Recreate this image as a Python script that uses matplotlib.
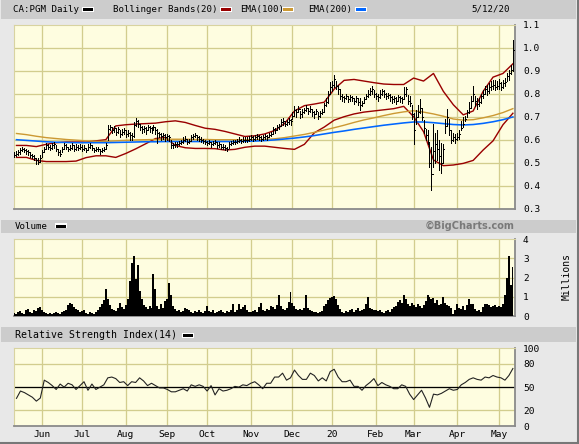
import numpy as np
import pandas as pd
import matplotlib
matplotlib.use("Agg")
import matplotlib.pyplot as plt
from matplotlib.patches import Rectangle

# ---------------- data ----------------
START, END = "2019-05-13", "2020-05-12"
HOLIDAYS = ["2019-05-20", "2019-07-01", "2019-08-05", "2019-09-02", "2019-10-14",
            "2019-12-25", "2019-12-26", "2020-01-01", "2020-02-17", "2020-04-10"]
MONTH_LABELS = ["Jun", "Jul", "Aug", "Sep", "Oct", "Nov", "Dec", "20", "Feb", "Mar", "Apr", "May"]
PRICE_TICKS = [0.3, 0.4, 0.5, 0.6, 0.7, 0.8, 0.9, 1.0, 1.1]
VOL_TICKS = [0, 1, 2, 3, 4]
RSI_TICKS = [0, 20, 50, 80, 100]

CLOSE = [
    # May
    0.535, 0.54, 0.545, 0.555, 0.56, 0.555, 0.55, 0.545, 0.535, 0.53, 0.52, 0.51, 0.505, 0.52,
    # Jun
    0.545, 0.56, 0.575, 0.57, 0.565, 0.575, 0.58, 0.56, 0.545, 0.54, 0.56, 0.575, 0.57, 0.56, 0.565, 0.575, 0.56, 0.57, 0.565, 0.57,
    # Jul
    0.56, 0.565, 0.555, 0.57, 0.575, 0.565, 0.555, 0.56, 0.56, 0.55, 0.555, 0.56, 0.575, 0.645, 0.655, 0.64, 0.65, 0.635, 0.645, 0.625, 0.635, 0.64,
    # Aug
    0.625, 0.63, 0.62, 0.615, 0.665, 0.68, 0.67, 0.655, 0.645, 0.65, 0.64, 0.655, 0.65, 0.645, 0.655, 0.64, 0.63, 0.625, 0.615, 0.62, 0.61,
    # Sep
    0.615, 0.61, 0.575, 0.575, 0.58, 0.58, 0.585, 0.59, 0.60, 0.605, 0.59, 0.595, 0.61, 0.615, 0.62, 0.61, 0.605, 0.60, 0.595, 0.59,
    # Oct
    0.585, 0.59, 0.58, 0.585, 0.59, 0.575, 0.58, 0.57, 0.57, 0.565, 0.56, 0.58, 0.585, 0.59, 0.59, 0.595, 0.60, 0.595, 0.60, 0.60, 0.60, 0.605,
    # Nov
    0.61, 0.605, 0.61, 0.615, 0.61, 0.605, 0.61, 0.615, 0.61, 0.62, 0.625, 0.645, 0.64, 0.655, 0.66, 0.675, 0.68, 0.67, 0.675, 0.685, 0.68,
    # Dec
    0.705, 0.73, 0.72, 0.735, 0.71, 0.72, 0.73, 0.74, 0.725, 0.735, 0.72, 0.71, 0.725, 0.705, 0.715, 0.72, 0.75, 0.765, 0.80, 0.83,
    # Jan
    0.84, 0.865, 0.835, 0.82, 0.79, 0.785, 0.78, 0.79, 0.775, 0.785, 0.78, 0.77, 0.78, 0.765, 0.75, 0.76, 0.775, 0.79, 0.80, 0.81, 0.82, 0.80,
    # Feb
    0.79, 0.785, 0.80, 0.81, 0.80, 0.79, 0.795, 0.785, 0.775, 0.78, 0.77, 0.785, 0.78, 0.775, 0.80, 0.82, 0.77, 0.76, 0.71,
    # Mar
    0.64, 0.70, 0.72, 0.74, 0.70, 0.65, 0.62, 0.59, 0.50, 0.45, 0.55, 0.58, 0.56, 0.53, 0.50, 0.56, 0.66, 0.70, 0.64, 0.60, 0.61, 0.605,
    # Apr
    0.61, 0.625, 0.65, 0.67, 0.69, 0.72, 0.74, 0.77, 0.80, 0.77, 0.755, 0.765, 0.79, 0.80, 0.82, 0.81, 0.83, 0.835, 0.84, 0.83, 0.835,
    # May
    0.845, 0.83, 0.845, 0.85, 0.875, 0.89, 0.905, 0.99,
]
HIGH = [
    0.545, 0.55, 0.555, 0.565, 0.57, 0.565, 0.56, 0.555, 0.545, 0.54, 0.535, 0.52, 0.52, 0.535,
    0.555, 0.57, 0.585, 0.58, 0.575, 0.585, 0.59, 0.575, 0.56, 0.555, 0.57, 0.585, 0.58, 0.57, 0.575, 0.585, 0.575, 0.58, 0.575, 0.58,
    0.575, 0.575, 0.565, 0.58, 0.585, 0.575, 0.565, 0.57, 0.57, 0.56, 0.565, 0.57, 0.585, 0.665, 0.665, 0.655, 0.66, 0.65, 0.655, 0.64, 0.645, 0.65,
    0.64, 0.64, 0.635, 0.63, 0.675, 0.695, 0.685, 0.67, 0.66, 0.66, 0.655, 0.665, 0.66, 0.655, 0.665, 0.655, 0.645, 0.635, 0.63, 0.63, 0.625,
    0.625, 0.62, 0.60, 0.585, 0.59, 0.59, 0.595, 0.60, 0.61, 0.615, 0.605, 0.605, 0.62, 0.625, 0.63, 0.62, 0.615, 0.61, 0.605, 0.60,
    0.595, 0.60, 0.59, 0.595, 0.60, 0.59, 0.59, 0.58, 0.58, 0.575, 0.57, 0.59, 0.595, 0.60, 0.60, 0.605, 0.61, 0.605, 0.61, 0.61, 0.61, 0.615,
    0.62, 0.615, 0.62, 0.625, 0.62, 0.615, 0.62, 0.625, 0.62, 0.63, 0.635, 0.655, 0.65, 0.665, 0.67, 0.69, 0.695, 0.68, 0.685, 0.695, 0.69,
    0.72, 0.745, 0.735, 0.745, 0.725, 0.735, 0.74, 0.75, 0.74, 0.745, 0.735, 0.725, 0.735, 0.72, 0.725, 0.735, 0.76, 0.78, 0.81, 0.85,
    0.855, 0.88, 0.855, 0.84, 0.82, 0.80, 0.79, 0.80, 0.79, 0.795, 0.79, 0.78, 0.79, 0.78, 0.78, 0.77, 0.785, 0.80, 0.815, 0.825, 0.835, 0.815,
    0.805, 0.80, 0.815, 0.82, 0.815, 0.805, 0.805, 0.80, 0.79, 0.79, 0.785, 0.795, 0.79, 0.785, 0.83, 0.83, 0.795, 0.79, 0.75,
    0.715, 0.73, 0.75, 0.775, 0.74, 0.685, 0.645, 0.64, 0.585, 0.57, 0.67, 0.63, 0.64, 0.60, 0.585, 0.58, 0.69, 0.735, 0.69, 0.64, 0.63, 0.625,
    0.63, 0.64, 0.68, 0.70, 0.705, 0.73, 0.765, 0.79, 0.835, 0.79, 0.78, 0.78, 0.80, 0.815, 0.835, 0.84, 0.845, 0.855, 0.86, 0.86, 0.855,
    0.865, 0.85, 0.86, 0.87, 0.89, 0.905, 0.925, 1.035,
]
LOW = [
    0.525, 0.53, 0.535, 0.54, 0.55, 0.545, 0.54, 0.535, 0.525, 0.52, 0.51, 0.495, 0.495, 0.505,
    0.525, 0.545, 0.56, 0.56, 0.555, 0.56, 0.565, 0.55, 0.535, 0.53, 0.545, 0.56, 0.56, 0.55, 0.555, 0.56, 0.55, 0.555, 0.555, 0.56,
    0.55, 0.555, 0.545, 0.555, 0.565, 0.555, 0.545, 0.55, 0.55, 0.54, 0.545, 0.55, 0.56, 0.60, 0.64, 0.63, 0.635, 0.62, 0.63, 0.61, 0.62, 0.625,
    0.61, 0.615, 0.60, 0.60, 0.61, 0.66, 0.655, 0.64, 0.63, 0.635, 0.625, 0.64, 0.635, 0.63, 0.64, 0.625, 0.585, 0.61, 0.60, 0.605, 0.595,
    0.60, 0.595, 0.565, 0.565, 0.57, 0.57, 0.575, 0.58, 0.585, 0.595, 0.58, 0.585, 0.595, 0.605, 0.61, 0.60, 0.595, 0.59, 0.585, 0.58,
    0.575, 0.58, 0.57, 0.575, 0.58, 0.565, 0.57, 0.56, 0.56, 0.555, 0.55, 0.565, 0.575, 0.58, 0.58, 0.585, 0.59, 0.585, 0.59, 0.59, 0.59, 0.595,
    0.60, 0.595, 0.60, 0.605, 0.60, 0.595, 0.60, 0.605, 0.60, 0.61, 0.615, 0.625, 0.63, 0.64, 0.645, 0.66, 0.665, 0.66, 0.665, 0.67, 0.665,
    0.69, 0.705, 0.70, 0.72, 0.695, 0.70, 0.715, 0.725, 0.71, 0.72, 0.705, 0.695, 0.71, 0.69, 0.70, 0.71, 0.72, 0.745, 0.76, 0.80,
    0.81, 0.83, 0.82, 0.80, 0.775, 0.77, 0.765, 0.775, 0.765, 0.77, 0.77, 0.755, 0.765, 0.75, 0.73, 0.745, 0.76, 0.775, 0.785, 0.795, 0.80, 0.785,
    0.775, 0.77, 0.78, 0.795, 0.785, 0.775, 0.78, 0.77, 0.76, 0.765, 0.755, 0.77, 0.765, 0.76, 0.775, 0.79, 0.755, 0.745, 0.69,
    0.58, 0.67, 0.70, 0.715, 0.685, 0.63, 0.60, 0.58, 0.48, 0.38, 0.48, 0.50, 0.51, 0.47, 0.455, 0.50, 0.63, 0.66, 0.62, 0.585, 0.595, 0.585,
    0.60, 0.605, 0.64, 0.655, 0.68, 0.70, 0.715, 0.74, 0.77, 0.745, 0.735, 0.745, 0.76, 0.78, 0.80, 0.795, 0.805, 0.815, 0.82, 0.815, 0.82,
    0.82, 0.815, 0.825, 0.835, 0.855, 0.86, 0.885, 0.90,
]
VOLUME = [  # millions of shares
    0.15, 0.10, 0.20, 0.25, 0.15, 0.10, 0.30, 0.35, 0.20, 0.15, 0.30, 0.25, 0.40, 0.45,
    0.30, 0.20, 0.15, 0.10, 0.15, 0.10, 0.15, 0.20, 0.15, 0.10, 0.20, 0.25, 0.30, 0.55, 0.70, 0.60, 0.45, 0.35, 0.30, 0.20,
    0.25, 0.30, 0.15, 0.10, 0.20, 0.15, 0.10, 0.20, 0.30, 0.45, 0.60, 0.85, 1.40, 0.90, 0.55, 0.35, 0.30, 0.25, 0.40, 0.70, 0.45, 0.35,
    0.55, 0.9, 1.8, 2.75, 3.1, 1.9, 2.65, 1.3, 0.9, 0.55, 0.45, 0.35, 0.5, 0.4, 2.2, 1.4, 0.5, 0.35, 0.6, 0.4, 0.8,
    0.9, 1.7, 1.1, 0.5, 0.35, 0.25, 0.3, 0.2, 0.25, 0.4, 0.35, 0.3, 0.2, 0.15, 0.25, 0.2, 0.3, 0.2, 0.15, 0.25,
    0.5, 0.25, 0.2, 0.3, 0.15, 0.2, 0.25, 0.3, 0.2, 0.15, 0.25, 0.2, 0.3, 0.6, 0.2, 0.3, 0.6, 0.35, 0.45, 0.55, 0.3, 0.2,
    0.2, 0.25, 0.3, 0.2, 0.45, 0.7, 0.3, 0.25, 0.35, 0.3, 0.5, 0.45, 0.35, 0.55, 1.1, 0.5, 0.35, 0.3, 0.4, 0.75, 1.25,
    0.7, 0.5, 0.35, 0.3, 0.35, 0.3, 0.4, 1.1, 0.4, 0.3, 0.25, 0.2, 0.2, 0.15, 0.2, 0.25, 0.5, 0.6, 0.85, 0.95,
    1.0, 1.05, 0.9, 0.55, 0.35, 0.2, 0.15, 0.25, 0.2, 0.3, 0.35, 0.2, 0.3, 0.4, 0.25, 0.3, 0.35, 0.6, 1.0, 0.4, 0.35, 0.3,
    0.3, 0.25, 0.3, 0.2, 0.15, 0.25, 0.3, 0.2, 0.35, 0.45, 0.5, 0.75, 0.85, 0.7, 1.1, 0.9, 0.6, 0.5, 0.7,
    0.55, 0.45, 0.6, 0.5, 0.4, 0.55, 0.8, 1.1, 1.0, 0.9, 0.95, 0.7, 0.85, 0.55, 0.6, 1.0, 0.7, 0.55, 0.5, 0.4, 0.1, 0.3,
    0.6, 0.4, 0.35, 0.5, 0.3, 0.55, 0.9, 0.6, 0.65, 0.35, 0.25, 0.3, 0.2, 0.45, 0.65, 0.6, 0.55, 0.45, 0.5, 0.55, 0.45,
    0.5, 0.45, 0.6, 1.1, 2.0, 3.1, 1.6, 2.55,
]
# indicator lines read every 5th session (starting with the 2nd session)
BB_UPPER = [0.575, 0.575, 0.57, 0.58, 0.587, 0.59, 0.59, 0.59, 0.595, 0.60,
            0.66, 0.665, 0.668, 0.67, 0.672, 0.678, 0.682, 0.675, 0.662, 0.65,
            0.645, 0.636, 0.625, 0.614, 0.617, 0.625, 0.64, 0.67, 0.725, 0.748,
            0.755, 0.763, 0.82, 0.858, 0.862, 0.855, 0.848, 0.842, 0.84, 0.84,
            0.868, 0.855, 0.888, 0.81, 0.752, 0.708, 0.725, 0.81, 0.872, 0.888, 0.93]
BB_LOWER = [0.523, 0.523, 0.51, 0.505, 0.505, 0.505, 0.507, 0.522, 0.53, 0.53,
            0.523, 0.54, 0.56, 0.582, 0.605, 0.61, 0.575, 0.565, 0.562, 0.562,
            0.561, 0.555, 0.558, 0.567, 0.572, 0.572, 0.567, 0.562, 0.558, 0.58,
            0.63, 0.655, 0.685, 0.70, 0.712, 0.72, 0.725, 0.73, 0.735, 0.745,
            0.70, 0.635, 0.512, 0.487, 0.49, 0.497, 0.51, 0.555, 0.595, 0.665, 0.715]
EMA100 = [0.627, 0.622, 0.615, 0.609, 0.605, 0.601, 0.598, 0.595, 0.593, 0.593,
          0.595, 0.597, 0.599, 0.600, 0.601, 0.602, 0.602, 0.602, 0.601, 0.601,
          0.600, 0.600, 0.600, 0.600, 0.600, 0.601, 0.604, 0.609, 0.616, 0.623,
          0.632, 0.642, 0.652, 0.663, 0.675, 0.686, 0.695, 0.705, 0.714, 0.721,
          0.726, 0.72, 0.712, 0.702, 0.69, 0.685, 0.687, 0.695, 0.705, 0.718, 0.735]
EMA200 = [0.600, 0.597, 0.594, 0.591, 0.589, 0.588, 0.587, 0.587, 0.587, 0.587,
          0.588, 0.589, 0.590, 0.591, 0.591, 0.592, 0.592, 0.592, 0.592, 0.592,
          0.592, 0.592, 0.592, 0.593, 0.594, 0.596, 0.599, 0.603, 0.607, 0.612,
          0.618, 0.625, 0.632, 0.638, 0.645, 0.651, 0.657, 0.663, 0.668, 0.673,
          0.677, 0.677, 0.674, 0.670, 0.666, 0.664, 0.666, 0.671, 0.678, 0.687, 0.699]
# RSI(14) read every 2nd session (starting with the 2nd session)
RSI14 = [35.6, 45, 43, 40, 37, 32, 36, 59, 56, 52, 47, 54, 50, 55, 53, 47, 52, 57, 46, 54,
         47, 50, 53, 62, 63, 61, 56, 57, 52, 57, 56, 62, 58, 52, 55, 52, 49, 49, 47, 44,
         44, 46, 48, 45, 53, 51, 53, 51, 45, 52, 40, 48, 45, 46, 48, 51, 50, 53, 52, 55,
         57, 53, 48, 55, 55, 63, 63, 68, 59, 62,
         72, 65, 60, 60, 68, 65, 58, 62, 58, 70, 73, 63, 57, 57, 59, 51, 51, 46, 52, 56,
         61, 52, 56, 53, 51, 48, 48, 53, 51, 41, 34, 40, 46, 36, 24, 41, 40, 42, 45, 48,
         46, 47, 53, 56, 60, 62, 60, 59, 63, 62, 65, 63, 62, 59, 65, 74]

# ---------------- derived positions ----------------
dates = pd.bdate_range(START, END)
dates = dates[~dates.isin(pd.to_datetime(HOLIDAYS))]
n = len(dates)
assert len(CLOSE) == n and len(HIGH) == n and len(LOW) == n and len(VOLUME) == n
x = np.arange(n)
x5 = x[1::5]
x2 = x[1::2]
assert len(x5) == len(BB_UPPER) == len(BB_LOWER) == len(EMA100) == len(EMA200)
assert len(x2) == len(RSI14)
months = dates.month
month_pos = [i for i in range(1, n) if months[i] != months[i - 1]]

# ---------------- style ----------------
W, H = 579, 444
FIG_BG = "#e8e8e8"
BAND = "#cccccc"
PLOT_BG = "#fefde0"
GRID = "#d2cd8e"
RED, ORANGE, BLUE = "#990000", "#cc9933", "#0066ff"
MONO = "DejaVu Sans Mono"
plt.rcParams["font.family"] = MONO

fig = plt.figure(figsize=(W / 100, H / 100), dpi=100)
fig.patch.set_facecolor(FIG_BG)

XL, XR = 14, 515
XMIN, XMAX = -0.25, 252.06
PX = 0.72  # one pixel in points


def add_ax(top, bottom):
    return fig.add_axes([XL / W, 1 - bottom / H, (XR - XL) / W, (bottom - top) / H])


def band(y0, y1):
    fig.add_artist(Rectangle((1 / W, 1 - y1 / H), 575 / W, (y1 - y0) / H,
                             transform=fig.transFigure, facecolor=BAND, edgecolor="none", zorder=0))


def swatch(x0, yc, color):
    fig.add_artist(Rectangle((x0 / W, 1 - (yc + 2.5) / H), 12 / W, 5 / H, transform=fig.transFigure,
                             facecolor="white", edgecolor="none"))
    fig.add_artist(Rectangle(((x0 + 1) / W, 1 - (yc + 1.5) / H), 10 / W, 3 / H, transform=fig.transFigure,
                             facecolor=color, edgecolor="none"))


def ftext(px, py, s, **kw):
    kw.setdefault("fontsize", 6.6)
    kw.setdefault("va", "center")
    fig.text(px / W, 1 - py / H, s, **kw)


def style(ax, ymin, ymax, ticks, labels, grid_y):
    ax.set_facecolor(PLOT_BG)
    ax.set_xlim(XMIN, XMAX)
    ax.set_ylim(ymin, ymax)
    for p in month_pos:
        ax.axvline(p, color=GRID, lw=1.3 * PX, zorder=0.5)
    for g in grid_y:
        ax.axhline(g, color=GRID, lw=1.3 * PX, zorder=0.5)
    ax.yaxis.tick_right()
    ax.set_yticks(ticks)
    ax.set_yticklabels(labels)
    ax.tick_params(axis="y", length=0, pad=5.8, labelsize=6.8)
    ax.set_xticks([])
    for s in ("top", "left"):
        ax.spines[s].set_color("#d8d3a0")
        ax.spines[s].set_linewidth(0.8)
    for s in ("bottom", "right"):
        ax.spines[s].set_color("#8a8a8a")
        ax.spines[s].set_linewidth(1.3)


# header bands
band(0, 19)
band(220, 233)
band(327, 342)

ftext(13, 9.5, "CA:PGM Daily")
swatch(82, 9.5, "black")
ftext(113, 9.5, "Bollinger Bands(20)")
swatch(220, 9.5, RED)
ftext(240.5, 9.5, "EMA(100)")
swatch(282, 9.5, ORANGE)
ftext(308, 9.5, "EMA(200)")
swatch(355, 9.5, BLUE)
ftext(510, 9.5, "5/12/20", ha="right")

ftext(15, 226.5, "Volume")
swatch(55, 226, "black")
ftext(515, 226, "\u00a9BigCharts.com", ha="right", fontfamily="DejaVu Sans",
      fontweight="bold", color="#7a7a7a", fontsize=7)

ftext(15, 335, "Relative Strength Index(14)", fontsize=7.1)
swatch(182, 335, "black")

# ---------------- price panel ----------------
ax1 = add_ax(24.7, 208.7)
style(ax1, 0.3, 1.1, PRICE_TICKS, [f"{t:.1f}" for t in PRICE_TICKS], PRICE_TICKS[1:-1])
ax1.plot(x5, BB_UPPER, color=RED, lw=1.4 * PX, zorder=2)
ax1.plot(x5, BB_LOWER, color=RED, lw=1.4 * PX, zorder=2)
ax1.plot(x5, EMA100, color=ORANGE, lw=1.4 * PX, zorder=2)
ax1.plot(x5, EMA200, color=BLUE, lw=1.6 * PX, zorder=2)
ax1.vlines(x, LOW, HIGH, colors="black", lw=1.0 * PX, zorder=3, antialiased=False)
ax1.hlines(CLOSE, x, x + 0.55, colors="black", lw=1.0 * PX, zorder=3, antialiased=False)

# ---------------- volume panel ----------------
ax2 = add_ax(239.1, 316)
style(ax2, 0, 4, VOL_TICKS, [str(t) for t in VOL_TICKS], VOL_TICKS[1:-1])
ax2.fill_between(x, 0, VOLUME, step="mid", color="black", lw=0, zorder=3)
ftext(567, 276, "Millions", rotation=90, ha="center", fontsize=7)

# ---------------- RSI panel ----------------
ax3 = add_ax(348.3, 426)
style(ax3, 0, 100, RSI_TICKS, [str(t) for t in RSI_TICKS], [20, 80])
ax3.axhline(50, color="black", lw=1.3 * PX, zorder=2)
ax3.plot(x2, RSI14, color="#222222", lw=1.1 * PX, zorder=3)
ax3.set_xticks(month_pos)
ax3.set_xticklabels(MONTH_LABELS)
ax3.tick_params(axis="x", length=0, pad=3.2, labelsize=6.8)

# outer frame shadow
fig.add_artist(plt.Line2D([577.5 / W, 577.5 / W], [0, 1], transform=fig.transFigure, color="#777777", lw=1.5))
fig.add_artist(plt.Line2D([0, 1], [1 - 442.5 / H, 1 - 442.5 / H], transform=fig.transFigure, color="#777777", lw=1.5))

fig.savefig("out.png", dpi=100, facecolor=FIG_BG)
